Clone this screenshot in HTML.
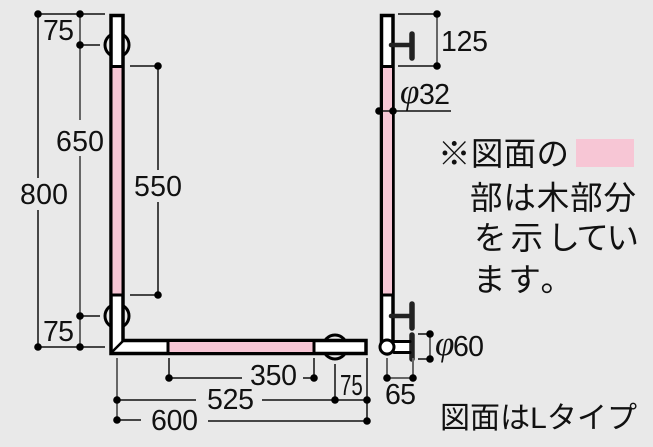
<!DOCTYPE html>
<html><head><meta charset="utf-8"><style>
html,body{margin:0;padding:0;background:#e9e9e9}
svg{display:block}
text{font-family:"Liberation Sans","Noto Sans CJK JP",sans-serif;fill:#111}
.n{font-size:28.500px}
.j{font-size:32.500px}
.p{font-size:35px;font-family:"Liberation Serif",serif;font-style:italic}
</style></head><body>
<svg width="653" height="447" viewBox="0 0 653 447" xmlns="http://www.w3.org/2000/svg">
<rect width="653" height="447" fill="#e9e9e9"/>
<!-- brackets -->
<g fill="none" stroke="#000" stroke-width="3">
<circle cx="117" cy="45" r="12"/><circle cx="117" cy="316" r="12"/><circle cx="335" cy="347" r="12"/>
</g>
<!-- L bar -->
<path d="M111 15.500H123V340.500H366V353.500H111Z" fill="#fff" stroke="#000" stroke-width="3.500"/>
<rect x="112.500" y="67" width="9" height="228" fill="#f7c6d5"/>
<rect x="168" y="342" width="145" height="10" fill="#f7c6d5"/>
<g stroke="#000" stroke-width="3" fill="none">
<path d="M110 66.500H124M110 295H124M168 341V353M314 341V353"/>
<path d="M111 353L123 341" stroke-width="2.500"/>
</g>
<!-- side bar -->
<path d="M381.500 15.500H393V347A5.750 7 0 0 1 381.500 347Z" fill="#fff" stroke="#000" stroke-width="3.500"/>
<rect x="383" y="67" width="9" height="228" fill="#f7c6d5"/>
<path d="M380 66.500H394M380 295H394" stroke="#000" stroke-width="3"/>
<!-- fittings -->
<g stroke="#222" fill="none" stroke-linecap="round">
<path d="M391 45H411" stroke-width="4.500"/>
<path d="M412 34V58" stroke-width="5.500"/>
<path d="M391 316H411" stroke-width="4.500"/>
<path d="M412 304V328" stroke-width="5.500"/>
<path d="M412 335V359" stroke-width="5.500"/>
<path d="M394 341.500H410M394 352.500H410" stroke-width="3" stroke="#000"/>
</g>
<rect x="394" y="343" width="15" height="8" fill="#fff"/>
<circle cx="387" cy="347" r="7" fill="#fff" stroke="#000" stroke-width="3"/>
<!-- dimension lines -->
<g stroke="#111" stroke-width="1.500" fill="none">
<path d="M38 14H105M38 14V178M38 210V347H105"/>
<path d="M80 14V20M80 45H100M80 316H100"/>
<path d="M130 66H158V170M158 202V295H130"/>
<path d="M169 358V378H242M314 358V378H303"/>
<path d="M117 400H196M262 400H367M335 364V400M367 358V421"/>
<path d="M117 420H141M208 421H367"/>
<path d="M398 14H437M398 66H437M379 111H451"/>
<path d="M418 334H430M418 359H430"/>
</g>
<g stroke="#666" stroke-width="2" fill="none">
<path d="M80 14V120M80 156V347"/>
<path d="M117 358V420"/>
<path d="M437 14V66M430 334V359M387 358V378H413M413 358V378"/>
</g>
<g fill="#000">
<circle cx="38" cy="14" r="3.800"/><circle cx="80" cy="14" r="3.800"/><circle cx="80" cy="45" r="3.800"/>
<circle cx="158" cy="66" r="3.800"/><circle cx="158" cy="295" r="3.800"/>
<circle cx="80" cy="316" r="3.800"/><circle cx="80" cy="347" r="3.800"/><circle cx="38" cy="347" r="3.800"/>
<circle cx="117" cy="400" r="3.800"/><circle cx="117" cy="420" r="3.800"/><circle cx="169" cy="378" r="3.800"/>
<circle cx="314" cy="378" r="3.800"/><circle cx="335" cy="400" r="3.800"/><circle cx="367" cy="400" r="3.800"/><circle cx="367" cy="421" r="3.800"/>
<circle cx="437" cy="14" r="3.800"/><circle cx="437" cy="66" r="3.800"/>
<circle cx="379" cy="111" r="3.800"/><circle cx="393" cy="111" r="3.800"/>
<circle cx="430" cy="334" r="3.800"/><circle cx="430" cy="359" r="3.800"/>
<circle cx="387" cy="378" r="3.800"/><circle cx="413" cy="378" r="3.800"/>
</g>
<!-- labels -->
<text class="n" x="43" y="40" textLength="31">75</text>
<text class="n" x="56" y="151" textLength="48">650</text>
<text class="n" x="20" y="204" textLength="48">800</text>
<text class="n" x="134" y="196" textLength="48">550</text>
<text class="n" x="43" y="341" textLength="31">75</text>
<text class="n" x="250" y="385" textLength="47">350</text>
<text class="n" x="207" y="409" textLength="47">525</text>
<text class="n" x="151" y="430" textLength="47">600</text>
<text class="n" x="340" y="395" transform="translate(340 0) scale(.72 1) translate(-340 0)">75</text>
<text class="n" x="441" y="51" textLength="47">125</text>
<text class="n" x="385" y="404" textLength="31">65</text>
<text class="p" x="400" y="103">φ</text>
<text class="n" x="419" y="104" textLength="31">32</text>
<text class="p" x="435" y="355">φ</text>
<text class="n" x="453" y="356" textLength="31">60</text>
<rect x="576" y="139" width="58" height="28" fill="#f7c6d5"/>
<text class="j" x="438" y="165" textLength="131">※図面の</text>
<text class="j" x="470" y="209" textLength="166">部は木部分</text>
<text class="j" x="474" y="249" textLength="165">を 示 してい</text>
<text class="j" x="473" y="291" textLength="100">ます。</text>
<text x="440" y="428" textLength="197" style="font-size:30px">図面はLタイプ</text>
</svg>
</body></html>
